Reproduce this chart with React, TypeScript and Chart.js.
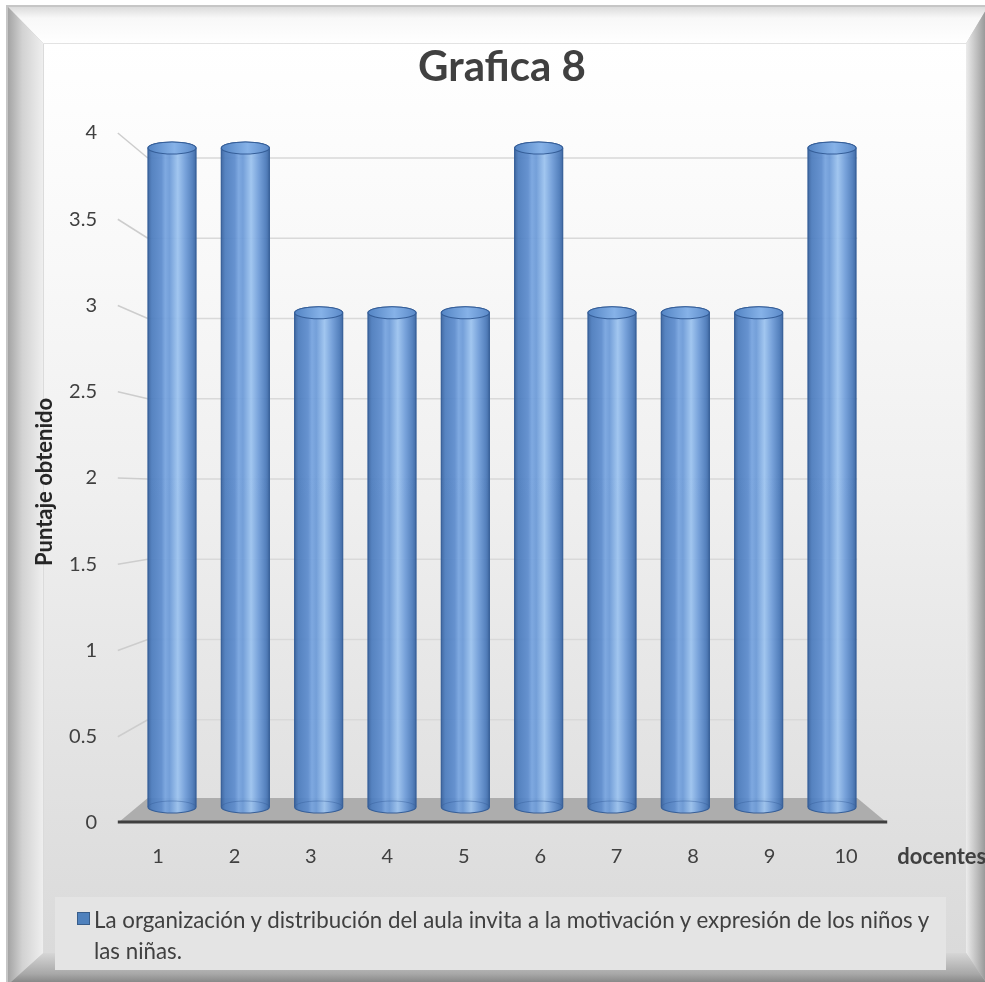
import React, { useEffect, useRef } from 'react';
import { Chart, registerables } from 'chart.js';

Chart.register(...registerables);

// ---------------- data ----------------
const chartTitle = 'Grafica 8';
const categories = ['1', '2', '3', '4', '5', '6', '7', '8', '9', '10'];
const puntaje = [4, 4, 3, 3, 3, 4, 3, 3, 3, 4];
const yTickLabels = ['0', '0.5', '1', '1.5', '2', '2.5', '3', '3.5', '4'];
const seriesLabel =
  'La organización y distribución del aula invita a la motivación y expresión de los niños y las niñas.';
const yAxisTitle = 'Puntaje obtenido';
const xAxisTitle = 'docentes';

// ---------------- layout ----------------
const W = 985;
const H = 982;
const PLOT_TOP = 119;
const PLOT_BOTTOM = 845;
const PLOT_LEFT = 119.8;
const PLOT_RIGHT = 884.2;
const X_AXIS_H = 40;
const FONT = 'Lato';

// value range of a vertical scale so that 0 and 4 land on given pixels
function rangeFor(zeroPx: number, fourPx: number) {
  const perUnit = (zeroPx - fourPx) / 4;
  return { min: -(PLOT_BOTTOM - zeroPx) / perUnit, max: (zeroPx - PLOT_TOP) / perUnit };
}
const labelRange = rangeFor(823, 133); // front plane (tick labels)
const wallRange = rangeFor(800, 158); // back wall gridlines
const barRange = rangeFor(807, 148); // cylinders

// horizontal range for the bar plane (first / last bar centres)
const FIRST_BAR_PX = 172;
const LAST_BAR_PX = 832;
const barPerUnit = (LAST_BAR_PX - FIRST_BAR_PX) / (categories.length - 1);
const barXRange = {
  min: 1 - (FIRST_BAR_PX - PLOT_LEFT) / barPerUnit,
  max: categories.length + (PLOT_RIGHT - LAST_BAR_PX) / barPerUnit,
};

function drawCylinder(ctx: CanvasRenderingContext2D, x: number, top: number, base: number, w: number) {
  const rx = w / 2;
  const ry = 6;
  const l = x - rx;
  const r = x + rx;
  const g = ctx.createLinearGradient(l, 0, r, 0);
  g.addColorStop(0, '#38629e');
  g.addColorStop(0.08, '#4c7cbd');
  g.addColorStop(0.28, '#5d8ccd');
  g.addColorStop(0.36, '#77a4df');
  g.addColorStop(0.45, '#6c9ad7');
  g.addColorStop(0.62, '#9cc3ef');
  g.addColorStop(0.78, '#6f9cd8');
  g.addColorStop(0.93, '#4b7aba');
  g.addColorStop(1, '#38629e');
  ctx.save();
  ctx.globalAlpha = 0.94;
  ctx.beginPath();
  ctx.moveTo(l, top);
  ctx.lineTo(l, base);
  ctx.ellipse(x, base, rx, ry, 0, Math.PI, 0, true);
  ctx.lineTo(r, top);
  ctx.ellipse(x, top, rx, ry, 0, 0, Math.PI, true);
  ctx.closePath();
  ctx.fillStyle = g;
  ctx.fill();
  ctx.globalAlpha = 1;
  ctx.strokeStyle = '#365f99';
  ctx.lineWidth = 1.2;
  ctx.stroke();
  // faint back rim of the bottom
  ctx.strokeStyle = 'rgba(55,95,155,0.45)';
  ctx.lineWidth = 1;
  ctx.beginPath();
  ctx.ellipse(x, base, rx, ry, 0, Math.PI, 2 * Math.PI, false);
  ctx.stroke();
  // top face
  const tg = ctx.createLinearGradient(l, 0, r, 0);
  tg.addColorStop(0, '#5384c4');
  tg.addColorStop(0.55, '#86b2e8');
  tg.addColorStop(1, '#5a89c8');
  ctx.beginPath();
  ctx.ellipse(x, top, rx, ry, 0, 0, Math.PI * 2);
  ctx.fillStyle = tg;
  ctx.fill();
  ctx.strokeStyle = '#365f99';
  ctx.lineWidth = 1.2;
  ctx.stroke();
  ctx.restore();
}

const scene3d = {
  id: 'scene3d',
  beforeDatasetsDraw(chart: any) {
    const { ctx, chartArea: a, scales } = chart;
    const yl = scales.y;
    const yw = scales.yw;
    const fl = a.left - 2;
    const bl = a.left + 28;
    const br = a.right - 27;
    const fr = a.right + 3;
    ctx.save();
    ctx.lineWidth = 1.5;
    yl.ticks.forEach((t: any) => {
      if (t.value <= 0) return;
      const yf = yl.getPixelForValue(t.value);
      const yb = yw.getPixelForValue(t.value);
      ctx.strokeStyle = '#cdcdcd';
      ctx.beginPath();
      ctx.moveTo(fl, yf);
      ctx.lineTo(bl, yb);
      ctx.stroke();
      ctx.strokeStyle = '#d9d9d9';
      ctx.beginPath();
      ctx.moveTo(bl, yb);
      ctx.lineTo(br, yb);
      ctx.stroke();
    });
    const y0b = yw.getPixelForValue(0) - 2;
    const y0f = yl.getPixelForValue(0);
    ctx.fillStyle = '#adadad';
    ctx.beginPath();
    ctx.moveTo(bl, y0b);
    ctx.lineTo(br, y0b);
    ctx.lineTo(fr, y0f);
    ctx.lineTo(fl, y0f);
    ctx.closePath();
    ctx.fill();
    ctx.strokeStyle = '#3f3f3f';
    ctx.lineWidth = 3;
    ctx.beginPath();
    ctx.moveTo(fl, y0f - 1);
    ctx.lineTo(fr, y0f - 1);
    ctx.stroke();
    ctx.restore();
  },
  afterDatasetsDraw(chart: any) {
    const ctx = chart.ctx;
    const meta = chart.getDatasetMeta(0);
    meta.data.forEach((el: any) => {
      const p = el.getProps(['x', 'y', 'base', 'width'], true);
      drawCylinder(ctx, p.x, p.y, p.base, p.width);
    });
  },
  afterDraw(chart: any) {
    const { ctx, chartArea: a, scales } = chart;
    ctx.save();
    ctx.font = `bold 22px ${FONT}`;
    ctx.fillStyle = '#404040';
    ctx.textBaseline = 'middle';
    ctx.textAlign = 'left';
    ctx.fillText(xAxisTitle, a.right + 13, scales.x.top + 12);
    ctx.restore();
  },
};

export default function App() {
  const ref = useRef<HTMLCanvasElement | null>(null);

  useEffect(() => {
    if (!ref.current) return;
    const chart = new Chart(ref.current, {
      type: 'bar',
      data: {
        labels: categories,
        datasets: [
          {
            label: seriesLabel,
            data: puntaje.map((v, i) => ({ x: Number(categories[i]), y: v })),
            xAxisID: 'xb',
            yAxisID: 'yb',
            backgroundColor: 'rgba(79,129,189,0)',
            borderWidth: 0,
            barPercentage: 0.655,
            categoryPercentage: 1,
          },
        ],
      },
      options: {
        responsive: false,
        animation: false,
        events: [],
        layout: { padding: { left: 0, top: 0, right: W - PLOT_RIGHT, bottom: H - PLOT_BOTTOM - X_AXIS_H } },
        plugins: {
          legend: { display: false },
          tooltip: { enabled: false },
          title: {
            display: true,
            text: chartTitle,
            fullSize: false,
            color: '#404040',
            font: { family: FONT, size: 42, weight: 'bold' },
            padding: { top: 41.8, bottom: 26.8 },
          },
        },
        scales: {
          x: {
            type: 'category',
            position: 'bottom',
            offset: true,
            min: 0,
            max: categories.length - 1,
            grid: { display: false, drawTicks: false },
            border: { display: false },
            ticks: { color: '#404040', font: { family: FONT, size: 20 }, padding: 0, maxRotation: 0, autoSkip: false },
            afterFit: (s: any) => {
              s.height = X_AXIS_H;
            },
          },
          xb: {
            type: 'linear',
            axis: 'x',
            display: false,
            offset: false,
            min: barXRange.min,
            max: barXRange.max,
            ticks: { stepSize: 1, includeBounds: false },
          },
          y: {
            type: 'linear',
            position: 'left',
            min: labelRange.min,
            max: labelRange.max,
            grid: { display: false, drawTicks: false },
            border: { display: false },
            ticks: {
              stepSize: 0.5,
              includeBounds: false,
              padding: PLOT_LEFT - 97,
              color: '#404040',
              font: { family: FONT, size: 20 },
              callback: (_v: any, i: number) => yTickLabels[i] ?? '',
            },
            title: {
              display: true,
              text: yAxisTitle,
              color: '#262626',
              font: { family: FONT, size: 22, weight: 'bold' },
              padding: { top: 31.8, bottom: 0 },
            },
            afterFit: (s: any) => {
              s.width = PLOT_LEFT;
            },
          },
          yw: {
            type: 'linear',
            axis: 'y',
            position: 'left',
            display: false,
            min: wallRange.min,
            max: wallRange.max,
            ticks: { stepSize: 0.5, includeBounds: false },
          },
          yb: {
            type: 'linear',
            axis: 'y',
            position: 'left',
            display: false,
            min: barRange.min,
            max: barRange.max,
          },
        },
      },
      plugins: [scene3d],
    } as any);
    return () => chart.destroy();
  }, []);

  const FX = 6;
  const FY = 5;
  const FW = 982;
  const FH = 980;
  const BT = 37;
  const BL = 36;
  const BR = 22;
  const BB = 32;

  return (
    <div style={{ position: 'absolute', left: 0, top: 0, width: W, height: H, overflow: 'hidden', background: '#ffffff' }}>
      <div
        style={{
          position: 'absolute',
          left: FX,
          top: FY,
          width: FW,
          height: FH,
          background: '#c6c6c6',
        }}
      >
        <div
          style={{
            position: 'absolute',
            left: 1.5,
            top: 1.5,
            width: FW - 1.5,
            height: FH - 1.5,
          }}
        >
          <div
            style={{
              position: 'absolute',
              left: 0,
              top: 0,
              width: '100%',
              height: BT,
              clipPath: `polygon(0 0, 100% 0, calc(100% - ${BR}px) 100%, ${BL}px 100%)`,
              background: 'linear-gradient(to bottom, #dcdcdc, #f8f8f8 30%, #ffffff)',
            }}
          />
          <div
            style={{
              position: 'absolute',
              left: 0,
              top: 0,
              width: BL,
              height: '100%',
              clipPath: `polygon(0 0, 100% ${BT}px, 100% calc(100% - ${BB}px), 0 100%)`,
              background: 'linear-gradient(to right, #a4a4a4, #d2d2d2 40%, #f0f0f0)',
            }}
          />
          <div
            style={{
              position: 'absolute',
              right: 0,
              top: 0,
              width: BR,
              height: '100%',
              clipPath: `polygon(0 ${BT}px, 100% 0, 100% 100%, 0 calc(100% - ${BB}px))`,
              background: 'linear-gradient(to right, #ececec, #b4b4b4 60%, #8c8c8c)',
            }}
          />
          <div
            style={{
              position: 'absolute',
              left: 0,
              bottom: 0,
              width: '100%',
              height: BB,
              clipPath: `polygon(${BL}px 0, calc(100% - ${BR}px) 0, 100% 100%, 0 100%)`,
              background: 'linear-gradient(to bottom, #d6d6d6, #a8a8a8 65%, #7e7e7e)',
            }}
          />
          <div
            style={{
              position: 'absolute',
              left: BL,
              top: BT,
              width: FW - 1.5 - BL - BR,
              height: FH - 1.5 - BT - BB,
              background:
                'linear-gradient(to bottom, #ffffff 0%, #f8f8f8 25%, #efefef 50%, #e4e4e4 75%, #dadada 100%)',
            }}
          />
        </div>
      </div>
      <div
        style={{
          position: 'absolute',
          left: 55,
          top: 897,
          width: 891,
          height: 73,
          background: '#e4e4e4',
        }}
      />
      <canvas ref={ref} width={W} height={H} style={{ position: 'absolute', left: 0, top: 0, width: W, height: H }} />
      <div
        style={{
          position: 'absolute',
          left: 77,
          top: 912,
          width: 11,
          height: 11,
          background: '#4f81bd',
          border: '1px solid #385d8a',
        }}
      />
      <div
        style={{
          position: 'absolute',
          left: 94,
          top: 904,
          width: 850,
          fontFamily: FONT,
          fontSize: 22.3,
          lineHeight: '31px',
          color: '#404040',
        }}
      >
        {seriesLabel}
      </div>
    </div>
  );
}
